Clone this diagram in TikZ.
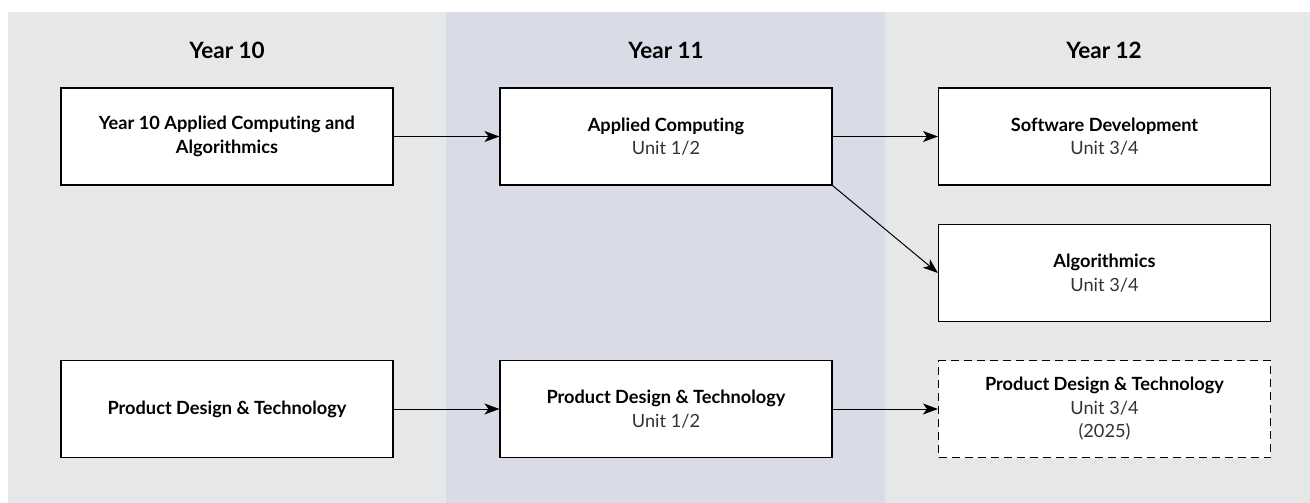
\documentclass[tikz,border=0pt]{standalone}
\usepackage{fontspec}
\setmainfont{Lato}[Ligatures=NoCommon]
\usetikzlibrary{arrows.meta}
\definecolor{bgside}{HTML}{E6E7E9}
\definecolor{bgmid}{HTML}{D9DBE7}
\definecolor{unitgray}{HTML}{333333}
\tikzset{
  box/.style={draw=black, fill=white, line width=1.1pt, minimum width=332pt, minimum height=97pt,
    inner sep=0pt, align=center, font=\bfseries\fontsize{18.2}{23.5}\selectfont},
  title/.style={anchor=base, font=\bfseries\fontsize{22.5}{26}\selectfont},
  arr/.style={-{Stealth[length=15pt,width=11pt,inset=4pt]}, line width=1pt}
}
\newcommand{\unitline}[1]{{\mdseries\color{unitgray}#1}}
\begin{document}
\begin{tikzpicture}[x=1pt,y=-1pt]
\useasboundingbox (0,0) rectangle (1310,503);
\fill[bgside] (8,12) rectangle (446,503);
\fill[bgmid] (446,12) rectangle (885,503);
\fill[bgside] (885,12) rectangle (1310,503);

\node[title] (t10) at (227,59) {Year 10};
\node[title] (t11) at (666,59) {Year 11};
\node[title] (t12) at (1104,59) {Year 12};

\node[box] (A) at (227,136.5) {Year 10 Applied Computing and\\Algorithmics};
\node[box] (B) at (666,136.5) {Applied Computing\\\unitline{Unit 1/2}};
\node[box] (C) at (1104.5,136.5) {Software Development\\\unitline{Unit 3/4}};
\node[box] (D) at (1104.5,273) {Algorithmics\\\unitline{Unit 3/4}};
\node[box] (E) at (227,409) {Product Design \& Technology};
\node[box] (F) at (666,409) {Product Design \& Technology\\\unitline{Unit 1/2}};
\node[box, dash pattern=on 8pt off 5pt] (G) at (1104.5,409) {Product Design \& Technology\\\unitline{Unit 3/4}\\\unitline{(2025)}};

\draw[arr] (A) -- (B);
\draw[arr] (B) -- (C);
\draw[arr] (B.south east) -- (D.west);
\draw[arr] (E) -- (F);
\draw[arr] (F) -- (G);
\end{tikzpicture}
\end{document}
